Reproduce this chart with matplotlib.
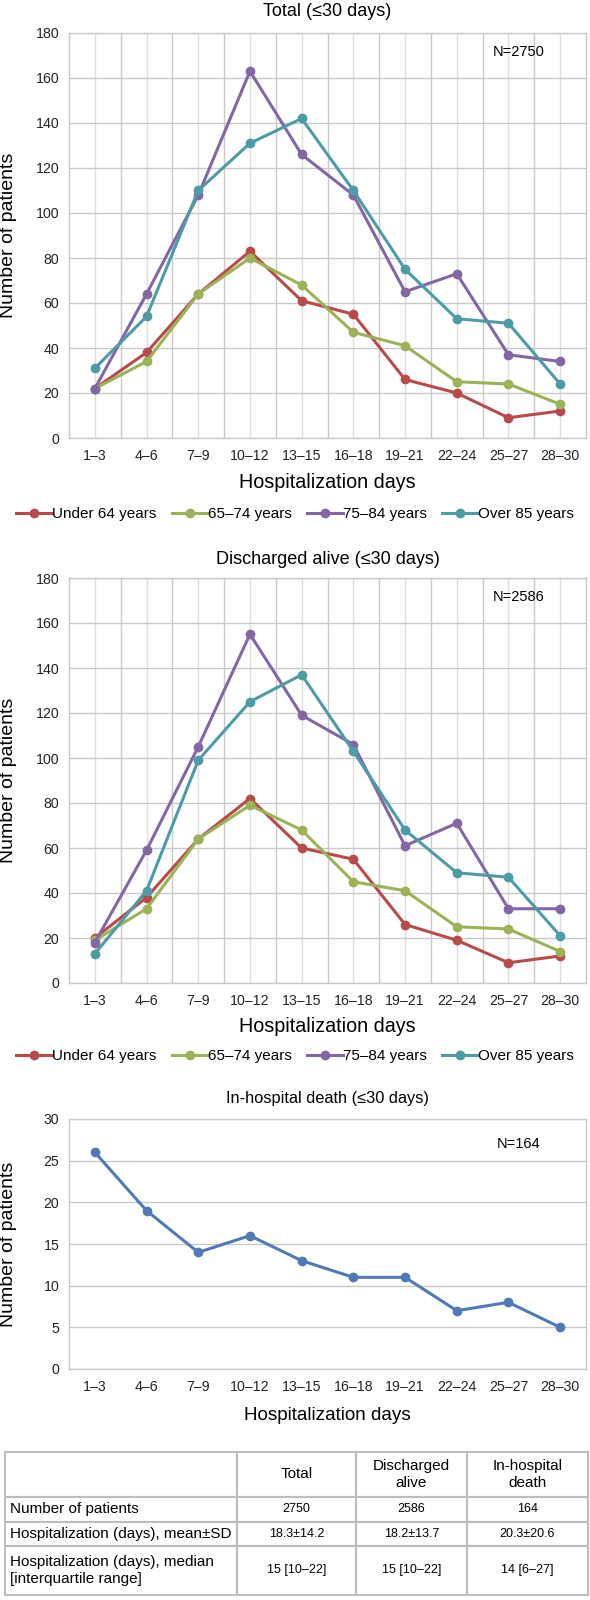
import matplotlib
matplotlib.use("Agg")
import matplotlib.pyplot as plt
import numpy as np

plt.rcParams['font.family'] = ['Liberation Sans', 'DejaVu Sans']

# ---- data ----
day_groups = ['1–3', '4–6', '7–9', '10–12', '13–15', '16–18', '19–21', '22–24', '25–27', '28–30']
age_groups = ['Under 64 years', '65–74 years', '75–84 years', 'Over 85 years']

total_under64 = [22, 38, 64, 83, 61, 55, 26, 20, 9, 12]
total_65_74 = [22, 34, 64, 80, 68, 47, 41, 25, 24, 15]
total_75_84 = [22, 64, 108, 163, 126, 108, 65, 73, 37, 34]
total_over85 = [31, 54, 110, 131, 142, 110, 75, 53, 51, 24]

alive_under64 = [20, 38, 64, 82, 60, 55, 26, 19, 9, 12]
alive_65_74 = [19, 33, 64, 79, 68, 45, 41, 25, 24, 14]
alive_75_84 = [18, 59, 105, 155, 119, 106, 61, 71, 33, 33]
alive_over85 = [13, 41, 99, 125, 137, 103, 68, 49, 47, 21]

death_counts = [26, 19, 14, 16, 13, 11, 11, 7, 8, 5]

table_cols = ['', 'Total', 'Discharged\nalive', 'In-hospital\ndeath']
table_rows = ['Number of patients',
              'Hospitalization (days), mean±SD',
              'Hospitalization (days), median\n[interquartile range]']
table_vals = [['2750', '2586', '164'],
              ['18.3±14.2', '18.2±13.7', '20.3±20.6'],
              ['15 [10–22]', '15 [10–22]', '14 [6–27]']]

colors = ['#B84B4A', '#9AB356', '#8466A4', '#4E9BA8']
death_color = '#4F7AB5'
grid_major = '#C9C9C9'
grid_minor = '#DEDEDE'

W, H = 590, 1600
LEFT, RIGHT = 69, 586
fig = plt.figure(figsize=(W / 100, H / 100), dpi=100)
xmid = (LEFT + RIGHT) / 2 / W


def fy(px):
    return 1 - px / H


def make_axes(top, bottom):
    return fig.add_axes([LEFT / W, fy(bottom), (RIGHT - LEFT) / W, (bottom - top) / H])


def style(ax, ymax, ystep, vgrid=True):
    x = np.arange(len(day_groups))
    ax.set_xlim(-0.5, len(day_groups) - 0.5)
    ax.set_ylim(0, ymax)
    ax.set_xticks(x)
    ax.set_xticklabels(day_groups)
    ax.set_yticks(np.arange(0, ymax + 1, ystep))
    ax.tick_params(axis='both', length=0, labelsize=10.2, colors='#222222')
    ax.tick_params(axis='x', pad=8)
    ax.tick_params(axis='y', pad=7)
    ax.grid(axis='y', color=grid_major, lw=1.0)
    if vgrid:
        ax.set_xticks(x[:-1] + 0.5, minor=True)
        ax.tick_params(axis='x', which='minor', length=0)
        ax.grid(axis='x', which='minor', color=grid_major, lw=1.0)
        ax.grid(axis='x', which='major', color=grid_minor, lw=1.0)
    ax.set_axisbelow(True)
    for s in ax.spines.values():
        s.set_color(grid_major)
        s.set_linewidth(1.0)
    ax.set_ylabel('Number of patients', fontsize=14)
    ax.yaxis.set_label_coords((17 - LEFT) / (RIGHT - LEFT), 0.5)


def age_panel(top, bottom, series, title, n_text, title_y, xlabel_y, legend_y):
    ax = make_axes(top, bottom)
    x = np.arange(len(day_groups))
    for vals, c, lab in zip(series, colors, age_groups):
        ax.plot(x, vals, color=c, lw=2.2, marker='o', ms=6, label=lab)
    style(ax, 180, 20)
    ax.text(0.87, 0.97, n_text, transform=ax.transAxes, ha='center', va='top', fontsize=10.5)
    fig.text(xmid, fy(title_y), title, ha='center', va='center', fontsize=13)
    fig.text(xmid, fy(xlabel_y), 'Hospitalization days', ha='center', va='center', fontsize=14.2)
    fig.legend(*ax.get_legend_handles_labels(), loc='center', bbox_to_anchor=(0.5, fy(legend_y)),
               ncol=4, frameon=False, fontsize=11, handlelength=2.35, handletextpad=0.0,
               columnspacing=1.0)
    return ax


age_panel(33, 438, [total_under64, total_65_74, total_75_84, total_over85],
          'Total (≤30 days)', 'N=2750', 12, 483, 514)
age_panel(578, 983, [alive_under64, alive_65_74, alive_75_84, alive_over85],
          'Discharged alive (≤30 days)', 'N=2586', 560, 1026, 1056)

# in-hospital death panel
ax3 = make_axes(1119, 1369)
ax3.plot(np.arange(len(day_groups)), death_counts, color=death_color, lw=2.2, marker='o', ms=6)
style(ax3, 30, 5, vgrid=False)
ax3.text(0.87, 0.93, 'N=164', transform=ax3.transAxes, ha='center', va='top', fontsize=10.5)
fig.text(xmid, fy(1099), 'In-hospital death (≤30 days)', ha='center', va='center', fontsize=11.8)
fig.text(xmid, fy(1415), 'Hospitalization days', ha='center', va='center', fontsize=13.6)

# summary table
axt = fig.add_axes([5 / W, fy(1595), 583 / W, 143 / H])
axt.axis('off')
cells = [table_cols] + [[r] + v for r, v in zip(table_rows, table_vals)]
tbl = axt.table(cellText=cells, bbox=[0, 0, 1, 1], cellLoc='center')
tbl.auto_set_font_size(False)
col_w = [232, 119, 111, 121]
row_h = [45, 25, 24, 49]
for (r, c), cell in tbl.get_celld().items():
    cell.set_width(col_w[c])
    cell.set_height(row_h[r])
    cell.set_edgecolor('#BDBDBD')
    cell.set_linewidth(1.5)
    txt = cell.get_text()
    if r == 0:
        txt.set_fontsize(11)
    elif c == 0:
        txt.set_fontsize(11)
        txt.set_ha('left')
        cell.PAD = 0.02
        cell._loc = 'left'
    else:
        txt.set_fontsize(9)

fig.savefig('out.png', dpi=100)
